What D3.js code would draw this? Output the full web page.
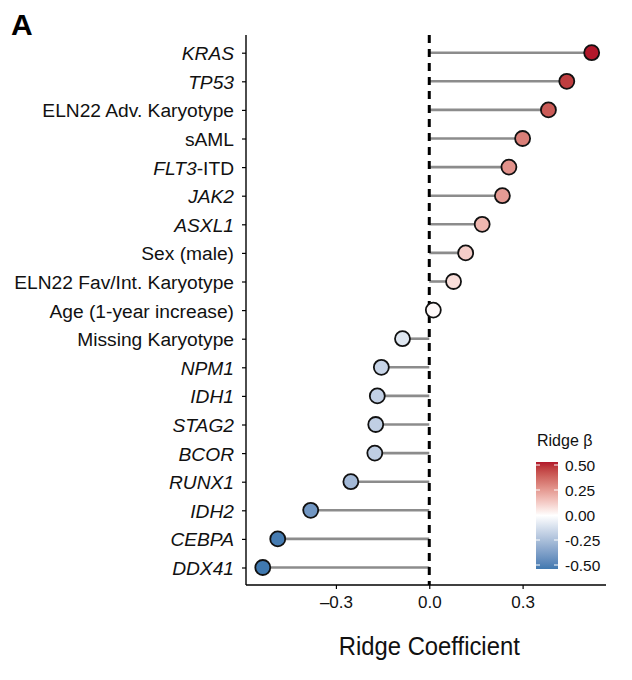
<!DOCTYPE html>
<html>
<head>
<meta charset="utf-8">
<script src="https://cdn.jsdelivr.net/npm/d3@7"></script>
<style>
	body { margin: 0; background: #fff; }
	text { font-family: "Liberation Sans", Arial, sans-serif; }
</style>
</head>
<body>
<div id="chart"></div>
<script>
// labels top to bottom, italic part for gene names
const labels = ["KRAS", "TP53", "ELN22 Adv. Karyotype", "sAML", "FLT3-ITD", "JAK2", "ASXL1",
	"Sex (male)", "ELN22 Fav/Int. Karyotype", "Age (1-year increase)", "Missing Karyotype",
	"NPM1", "IDH1", "STAG2", "BCOR", "RUNX1", "IDH2", "CEBPA", "DDX41"];
const italicPart = ["KRAS", "TP53", null, null, "FLT3", "JAK2", "ASXL1",
	null, null, null, null,
	"NPM1", "IDH1", "STAG2", "BCOR", "RUNX1", "IDH2", "CEBPA", "DDX41"];
const coefs = [0.522, 0.442, 0.383, 0.300, 0.256, 0.235, 0.170,
	0.117, 0.078, 0.013, -0.086,
	-0.154, -0.167, -0.172, -0.175, -0.252, -0.381, -0.487, -0.535];
const xTicks = [-0.3, 0.0, 0.3];
const legendTicks = [0.5, 0.25, 0, -0.25, -0.5];

const width = 632, height = 680;
const mLeft = 246, mBottom = 585, mTop = 38, mRight = 606;

const svg = d3.select("#chart").append("svg")
	.attr("width", width).attr("height", height);

const x = d3.scaleLinear().domain([-0.589, 0.568]).range([mLeft, mRight]);
const y = d3.scalePoint().domain(labels).range([52.7, 567.5]);

const color = d3.scaleLinear().domain([-0.5, 0, 0.5])
	.range(["#4079B0", "#ffffff", "#B2182B"])
	.interpolate(d3.interpolateLab).clamp(true);

// panel letter
svg.append("text").attr("x", 11).attr("y", 35)
	.attr("font-size", 30).attr("font-weight", "bold").text("A");

// segments
svg.selectAll(".seg").data(labels).enter().append("line")
	.attr("class", "seg")
	.attr("x1", x(0)).attr("x2", (d, i) => x(coefs[i]))
	.attr("y1", d => y(d)).attr("y2", d => y(d))
	.attr("stroke", "#8c8c8c").attr("stroke-width", 2.6);

// zero reference
svg.append("line")
	.attr("x1", x(0)).attr("x2", x(0)).attr("y1", 35).attr("y2", mBottom)
	.attr("stroke", "#000").attr("stroke-width", 3)
	.attr("stroke-dasharray", "8,6");

// dots
svg.selectAll(".dot").data(labels).enter().append("circle")
	.attr("class", "dot")
	.attr("cx", (d, i) => x(coefs[i])).attr("cy", d => y(d))
	.attr("r", 7.5)
	.attr("fill", (d, i) => color(coefs[i]))
	.attr("stroke", "#111").attr("stroke-width", 1.8);

// y axis
const yAxis = svg.append("g").attr("transform", `translate(${mLeft},0)`)
	.call(d3.axisLeft(y).tickSize(4).tickPadding(7).tickFormat(""));
yAxis.select(".domain").attr("d", `M0,${mTop - 3}V${mBottom}`).attr("stroke-width", 1.4);
yAxis.selectAll(".tick line").attr("stroke-width", 1.2);
yAxis.selectAll(".tick").each(function (d, i) {
	const t = d3.select(this).append("text")
		.attr("x", -12).attr("dy", "0.36em")
		.attr("text-anchor", "end").attr("fill", "#111")
		.attr("font-size", 19.2);
	const it = italicPart[i];
	if (it === null) {
		t.text(d);
	} else {
		t.append("tspan").attr("font-style", "italic").text(it);
		const rest = d.slice(it.length);
		if (rest) t.append("tspan").text(rest);
	}
});

// x axis
const xAxis = svg.append("g").attr("transform", `translate(0,${mBottom})`)
	.call(d3.axisBottom(x).tickValues(xTicks).tickSize(4).tickPadding(7)
		.tickFormat(d => d < 0 ? "\u2013" + Math.abs(d).toFixed(1) : d.toFixed(1)));
xAxis.select(".domain").attr("d", `M${mLeft},0H${mRight}`).attr("stroke-width", 1.4);
xAxis.selectAll(".tick line").attr("stroke-width", 1.2);
xAxis.selectAll(".tick text").attr("font-size", 17).attr("fill", "#111")
	.attr("font-family", "'Liberation Sans', Arial, sans-serif");

svg.append("text")
	.attr("x", x(0)).attr("y", 655).attr("text-anchor", "middle")
	.attr("font-size", 25).attr("fill", "#111")
	.attr("textLength", 181).attr("lengthAdjust", "spacingAndGlyphs")
	.text("Ridge Coefficient");

// legend
const lx = 536, lw = 22;
const ly = d3.scaleLinear().domain([0.5, -0.5]).range([465, 565]);
const defs = svg.append("defs");
const grad = defs.append("linearGradient").attr("id", "lg")
	.attr("x1", 0).attr("x2", 0).attr("y1", 0).attr("y2", 1);
d3.range(0, 1.0001, 0.05).forEach(t => {
	grad.append("stop").attr("offset", t).attr("stop-color", color(0.5 - t));
});
svg.append("text").attr("x", lx + 1).attr("y", 446)
	.attr("font-size", 16).attr("fill", "#111").text("Ridge \u03b2");
svg.append("rect").attr("x", lx).attr("y", 462).attr("width", lw).attr("height", 107)
	.attr("fill", "url(#lg)");
legendTicks.forEach(v => {
	svg.append("line").attr("x1", lx).attr("x2", lx + 4).attr("y1", ly(v)).attr("y2", ly(v))
		.attr("stroke", "#fff").attr("stroke-width", 1);
	svg.append("line").attr("x1", lx + lw - 4).attr("x2", lx + lw).attr("y1", ly(v)).attr("y2", ly(v))
		.attr("stroke", "#fff").attr("stroke-width", 1);
	svg.append("text").attr("x", lx + lw + 7).attr("y", ly(v)).attr("dy", "0.36em")
		.attr("font-size", 15.5).attr("fill", "#111")
		.text(v.toFixed(2));
});
</script>
</body>
</html>
